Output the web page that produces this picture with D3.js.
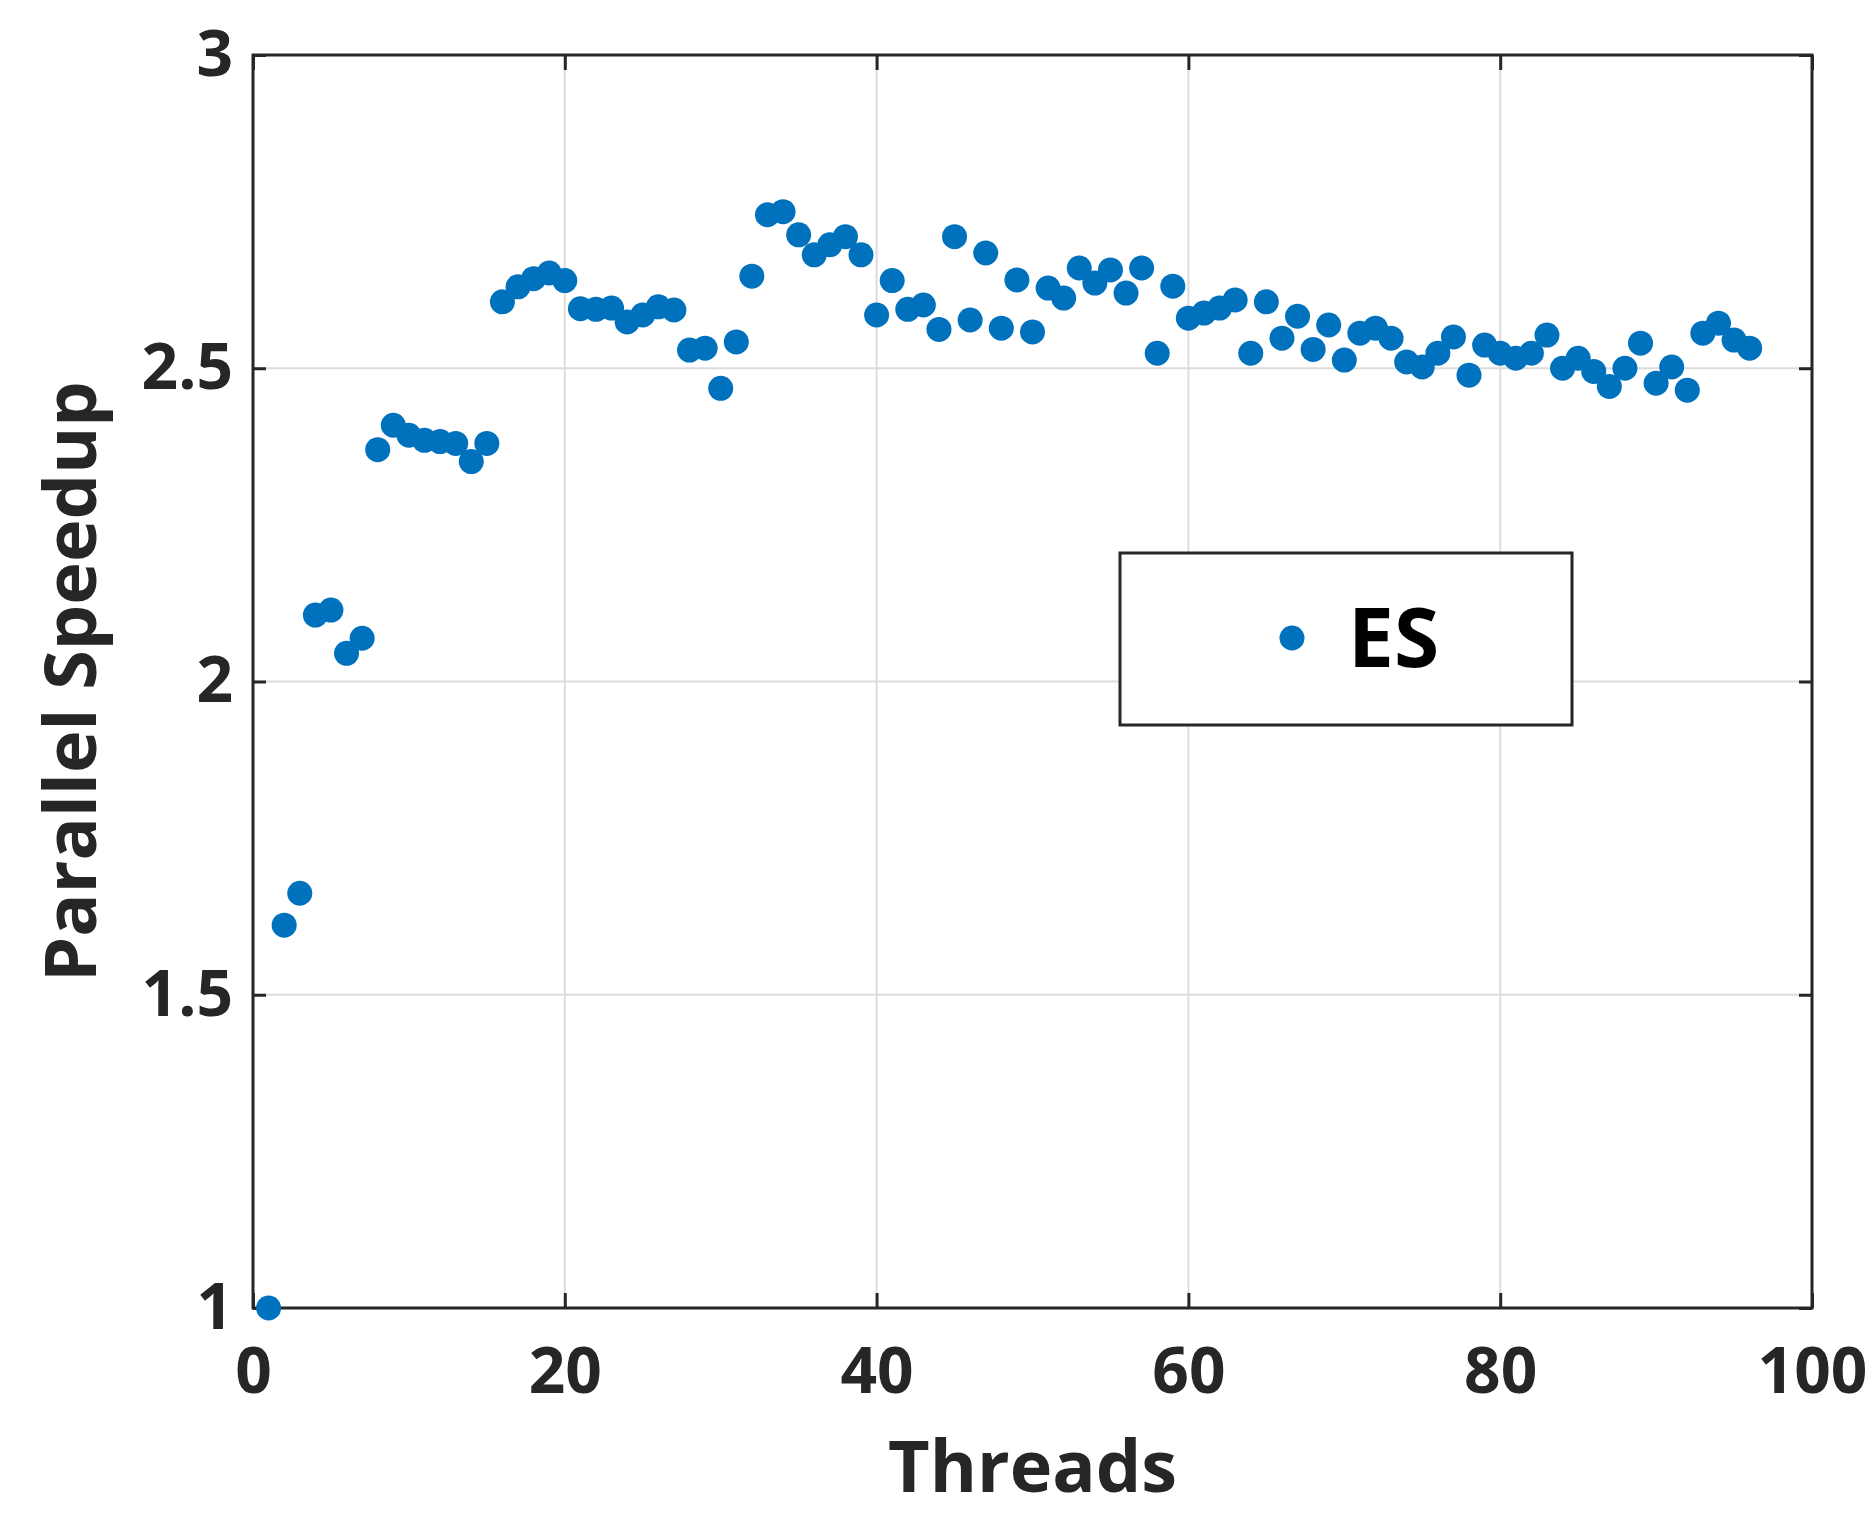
<!DOCTYPE html>
<html>
<head>
<meta charset="utf-8">
<script src="https://cdn.jsdelivr.net/npm/d3@7"></script>
<style>
  html, body { margin: 0; padding: 0; background: #ffffff; }
  svg { display: block; }
  text { font-family: "Open Sans", "Noto Sans", sans-serif; font-weight: 700; }
</style>
</head>
<body>
<svg id="chart" width="1869" height="1513"></svg>
<script>
// ---- data ----
const threads = [1,2,3,4,5,6,7,8,9,10,11,12,13,14,15,16,17,18,19,20,21,22,23,24,25,26,27,28,29,30,31,32,
  33,34,35,36,37,38,39,40,41,42,43,44,45,46,47,48,49,50,51,52,53,54,55,56,57,58,59,60,61,62,63,64,
  65,66,67,68,69,70,71,72,73,74,75,76,77,78,79,80,81,82,83,84,85,86,87,88,89,90,91,92,93,94,95,96];
const speedup = [1.000,1.611,1.662,2.106,2.114,2.045,2.069,2.370,2.409,2.393,2.385,2.383,2.380,2.351,2.380,2.606,
  2.630,2.643,2.652,2.640,2.595,2.594,2.596,2.574,2.585,2.598,2.593,2.529,2.532,2.468,2.542,2.647,
  2.745,2.750,2.713,2.681,2.697,2.710,2.681,2.585,2.640,2.594,2.601,2.562,2.710,2.577,2.684,2.564,
  2.641,2.558,2.628,2.612,2.660,2.636,2.657,2.620,2.660,2.524,2.631,2.580,2.588,2.596,2.609,2.524,
  2.606,2.548,2.583,2.530,2.569,2.513,2.556,2.564,2.548,2.510,2.502,2.524,2.550,2.489,2.537,2.524,
  2.516,2.524,2.553,2.500,2.516,2.495,2.471,2.500,2.540,2.476,2.502,2.465,2.556,2.572,2.545,2.532];
const xTicks = [0, 20, 40, 60, 80, 100];
const yTicks = [1, 1.5, 2, 2.5, 3];
const xTickLabels = ["0", "20", "40", "60", "80", "100"];
const yTickLabels = ["1", "1.5", "2", "2.5", "3"];
const seriesName = "ES";
const xLabel = "Threads";
const yLabel = "Parallel Speedup";

// ---- layout ----
const L = 253, R = 1812, T = 55, B = 1308;
const axisColor = "#262626";
const dotColor = "#0072BD";

const svg = d3.select("#chart");
svg.append("rect").attr("width", 1869).attr("height", 1513).attr("fill", "#fff");

const x = d3.scaleLinear().domain([0, 100]).range([L, R]);
const y = d3.scaleLinear().domain([1, 3]).range([B, T]);

// grid
const grid = svg.append("g");
grid.selectAll("line.gx").data(xTicks.slice(1, -1)).join("line")
  .attr("x1", d => x(d)).attr("x2", d => x(d)).attr("y1", T).attr("y2", B)
  .attr("stroke", "#dcdcdc").attr("stroke-width", 2);
grid.selectAll("line.gy").data(yTicks.slice(1, -1)).join("line")
  .attr("x1", L).attr("x2", R).attr("y1", d => y(d)).attr("y2", d => y(d))
  .attr("stroke", "#dcdcdc").attr("stroke-width", 2);

// axes
function styleAxis(g) {
  g.select(".domain").remove();
  g.selectAll(".tick line").attr("stroke", axisColor).attr("stroke-width", 3);
  g.selectAll(".tick text").attr("fill", axisColor).style("font-size", "64px")
    .style("font-family", '"Open Sans", sans-serif').style("font-weight", 700);
}
svg.append("g").attr("transform", `translate(0,${B})`)
  .call(d3.axisBottom(x).tickValues(xTicks).tickSize(-15).tickPadding(40)
    .tickFormat((d, i) => xTickLabels[i]))
  .call(styleAxis);
svg.append("g").attr("transform", `translate(0,${T})`)
  .call(d3.axisTop(x).tickValues(xTicks).tickSize(-15).tickFormat(""))
  .call(styleAxis);
svg.append("g").attr("transform", `translate(${L},0)`)
  .call(d3.axisLeft(y).tickValues(yTicks).tickSize(-13).tickPadding(20)
    .tickFormat((d, i) => yTickLabels[i]))
  .call(styleAxis);
svg.append("g").attr("transform", `translate(${R},0)`)
  .call(d3.axisRight(y).tickValues(yTicks).tickSize(-13).tickFormat(""))
  .call(styleAxis);

svg.append("rect").attr("x", L).attr("y", T).attr("width", R - L).attr("height", B - T)
  .attr("fill", "none").attr("stroke", axisColor).attr("stroke-width", 3);

// axis labels
svg.append("text").attr("x", (L + R) / 2).attr("y", 1492)
  .attr("text-anchor", "middle").attr("fill", axisColor).style("font-size", "72px")
  .text(xLabel);
svg.append("text").attr("transform", `translate(96,${(T + B) / 2}) rotate(-90)`)
  .attr("text-anchor", "middle").attr("fill", axisColor).style("font-size", "72px")
  .text(yLabel);

// points
svg.append("g").selectAll("circle").data(threads).join("circle")
  .attr("cx", d => x(d)).attr("cy", (d, i) => y(speedup[i])).attr("r", 12.5)
  .attr("fill", dotColor);

// legend
const lg = svg.append("g");
lg.append("rect").attr("x", 1120).attr("y", 553).attr("width", 452).attr("height", 172)
  .attr("fill", "#fff").attr("stroke", axisColor).attr("stroke-width", 3);
lg.append("circle").attr("cx", 1292).attr("cy", 638).attr("r", 12.5).attr("fill", dotColor);
lg.append("text").attr("x", 1348).attr("y", 667).attr("fill", "#000").style("font-size", "82px")
  .text(seriesName);
</script>
</body>
</html>
